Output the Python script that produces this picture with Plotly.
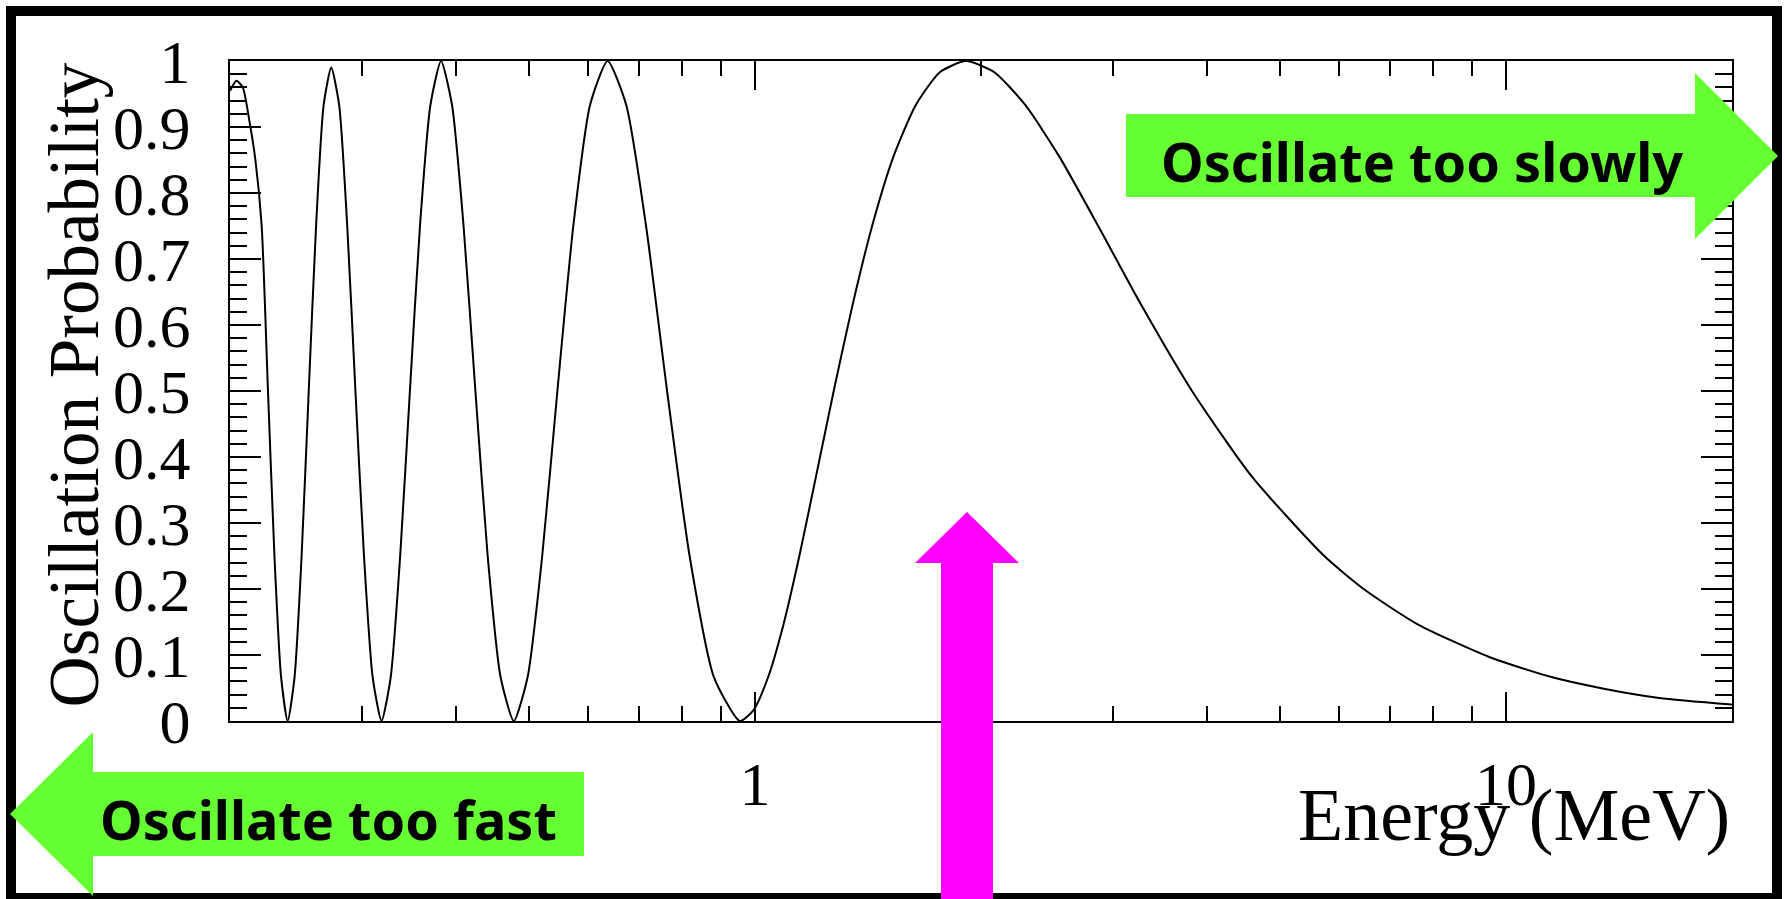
import plotly.graph_objects as go

# ---- data ----
energy_mev = [0.2000, 0.2040, 0.2080, 0.2122, 0.2162, 0.2204, 0.2247, 0.2292, 0.2339, 0.2387,
              0.2438, 0.2491, 0.2546, 0.2604, 0.2665, 0.2728, 0.2795, 0.2865, 0.2938, 0.3016,
              0.3097, 0.3183, 0.3274, 0.3370, 0.3472, 0.3581, 0.3697, 0.3820, 0.3951, 0.4093,
              0.4244, 0.4407, 0.4584, 0.4775, 0.4982, 0.5209, 0.5457, 0.5730, 0.6031, 0.6366,
              0.6741, 0.7162, 0.7639, 0.8185, 0.8815, 0.9549, 0.9964, 1.0417, 1.0913, 1.1459,
              1.2062, 1.2732, 1.3481, 1.4324, 1.5279, 1.6370, 1.7629, 1.9099, 2.0835, 2.2918,
              2.5465, 2.8648, 3.2740, 3.8197, 4.5837, 5.7296, 6.5, 7.6394, 9.5, 11.459,
              13.5, 16.0, 20.0]
probability = [0.955, 0.970, 0.960, 0.910, 0.850, 0.75, 0.5, 0.25, 0.067, 0.0,
               0.067, 0.25, 0.5, 0.75, 0.933, 0.99, 0.933, 0.75, 0.5, 0.25,
               0.067, 0.0, 0.067, 0.25, 0.5, 0.75, 0.933, 1.0, 0.933, 0.75,
               0.5, 0.25, 0.067, 0.0, 0.067, 0.25, 0.5, 0.75, 0.933, 1.0,
               0.933, 0.75, 0.5, 0.25, 0.067, 0.0, 0.017, 0.067, 0.146, 0.25,
               0.371, 0.5, 0.629, 0.75, 0.854, 0.933, 0.983, 1.0, 0.983, 0.933,
               0.854, 0.75, 0.629, 0.5, 0.371, 0.25, 0.198, 0.146, 0.097, 0.067,
               0.049, 0.035, 0.025]

x_major_vals = [1, 10]
x_major_text = ["1", "10"]
x_minor_vals = [0.3, 0.4, 0.5, 0.6, 0.7, 0.8, 0.9, 2, 3, 4, 5, 6, 7, 8, 9]
y_major_vals = [0, 0.1, 0.2, 0.3, 0.4, 0.5, 0.6, 0.7, 0.8, 0.9, 1]
y_major_text = ["0", "0.1", "0.2", "0.3", "0.4", "0.5", "0.6", "0.7", "0.8", "0.9", "1"]

x_title = "Energy (MeV)"
y_title = "Oscillation Probability"
label_fast = "Oscillate too fast"
label_slow = "Oscillate too slowly"

# ---- layout geometry (pixels) ----
W, H = 1785, 899
PL, PR, PT, PB = 230, 1732, 61, 721
SERIF = "Liberation Serif, Times New Roman, serif"
SANS = "Noto Sans, DejaVu Sans, sans-serif"
GREEN = "#66FF33"
MAGENTA = "#FF00FF"


def px(x, y):
    return (x - PL) / (PR - PL), (PB - y) / (PB - PT)


def path(points):
    parts = []
    for i, (x, y) in enumerate(points):
        a, b = px(x, y)
        parts.append(("M" if i == 0 else "L") + f"{a:.5f},{b:.5f}")
    return " ".join(parts) + " Z"


fig = go.Figure()
fig.add_trace(go.Scatter(
    x=energy_mev, y=probability, mode="lines",
    line=dict(color="black", width=2, shape="spline", smoothing=0.6),
    showlegend=False, hoverinfo="skip"))

fig.update_xaxes(
    type="log", range=[-0.69897, 1.30103],
    showgrid=False, zeroline=False,
    showline=True, linecolor="black", linewidth=2, mirror="ticks",
    ticks="inside", ticklen=29, tickwidth=2, tickcolor="black",
    tickmode="array", tickvals=x_major_vals, ticktext=x_major_text,
    tickfont=dict(family=SERIF, size=62, color="black"),
    ticklabelstandoff=8,
    minor=dict(tickmode="array", tickvals=x_minor_vals, ticks="inside",
               ticklen=15, tickwidth=2, tickcolor="black", showgrid=False),
)
fig.update_yaxes(
    range=[0, 1],
    showgrid=False, zeroline=False,
    showline=True, linecolor="black", linewidth=2, mirror="ticks",
    ticks="inside", ticklen=31, tickwidth=2, tickcolor="black",
    tickmode="array", tickvals=y_major_vals, ticktext=y_major_text,
    tickfont=dict(family=SERIF, size=62, color="black"),
    ticklabelstandoff=25,
    minor=dict(tickmode="linear", tick0=0, dtick=0.02, ticks="inside",
               ticklen=17, tickwidth=2, tickcolor="black", showgrid=False),
)

shapes = [
    # outer frame
    dict(type="rect", xref="paper", yref="paper",
         x0=px(11, 0)[0], x1=px(1777, 0)[0], y0=px(0, 898)[1], y1=px(0, 11)[1],
         line=dict(color="black", width=10), fillcolor="rgba(0,0,0,0)", layer="above"),
    # left green arrow
    dict(type="path", xref="paper", yref="paper", layer="above",
         path=path([(10, 814), (93, 732), (93, 772), (584, 772), (584, 856), (93, 856), (93, 896)]),
         fillcolor=GREEN, line=dict(width=0)),
    # right green arrow
    dict(type="path", xref="paper", yref="paper", layer="above",
         path=path([(1126, 114), (1695, 114), (1695, 73), (1778, 156), (1695, 239), (1695, 197), (1126, 197)]),
         fillcolor=GREEN, line=dict(width=0)),
    # magenta arrow
    dict(type="path", xref="paper", yref="paper", layer="above",
         path=path([(967, 512), (1019, 563), (993, 563), (993, 905), (941, 905), (941, 563), (915, 563)]),
         fillcolor=MAGENTA, line=dict(width=0)),
]

annotations = [
    dict(text=y_title, xref="paper", yref="paper", x=px(114, 0)[0], y=1.0,
         xanchor="right", yanchor="top", textangle=-90, showarrow=False,
         font=dict(family=SERIF, size=71, color="black")),
    dict(text=x_title, xref="paper", yref="paper", x=1.0, y=px(0, 858)[1],
         xanchor="right", yanchor="bottom", showarrow=False,
         font=dict(family=SERIF, size=74, color="black")),
    dict(text=label_fast, xref="paper", yref="paper", x=px(328, 0)[0], y=px(0, 819)[1],
         xanchor="center", yanchor="middle", showarrow=False,
         font=dict(family=SANS, size=54, color="black", weight=700)),
    dict(text=label_slow, xref="paper", yref="paper", x=px(1422, 0)[0], y=px(0, 161)[1],
         xanchor="center", yanchor="middle", showarrow=False,
         font=dict(family=SANS, size=54, color="black", weight=700)),
]

fig.update_layout(
    width=W, height=H, autosize=False,
    margin=dict(l=PL, r=W - PR, t=PT, b=H - PB, pad=0),
    paper_bgcolor="white", plot_bgcolor="white",
    showlegend=False, shapes=shapes, annotations=annotations,
)

fig.write_html("out.html")
